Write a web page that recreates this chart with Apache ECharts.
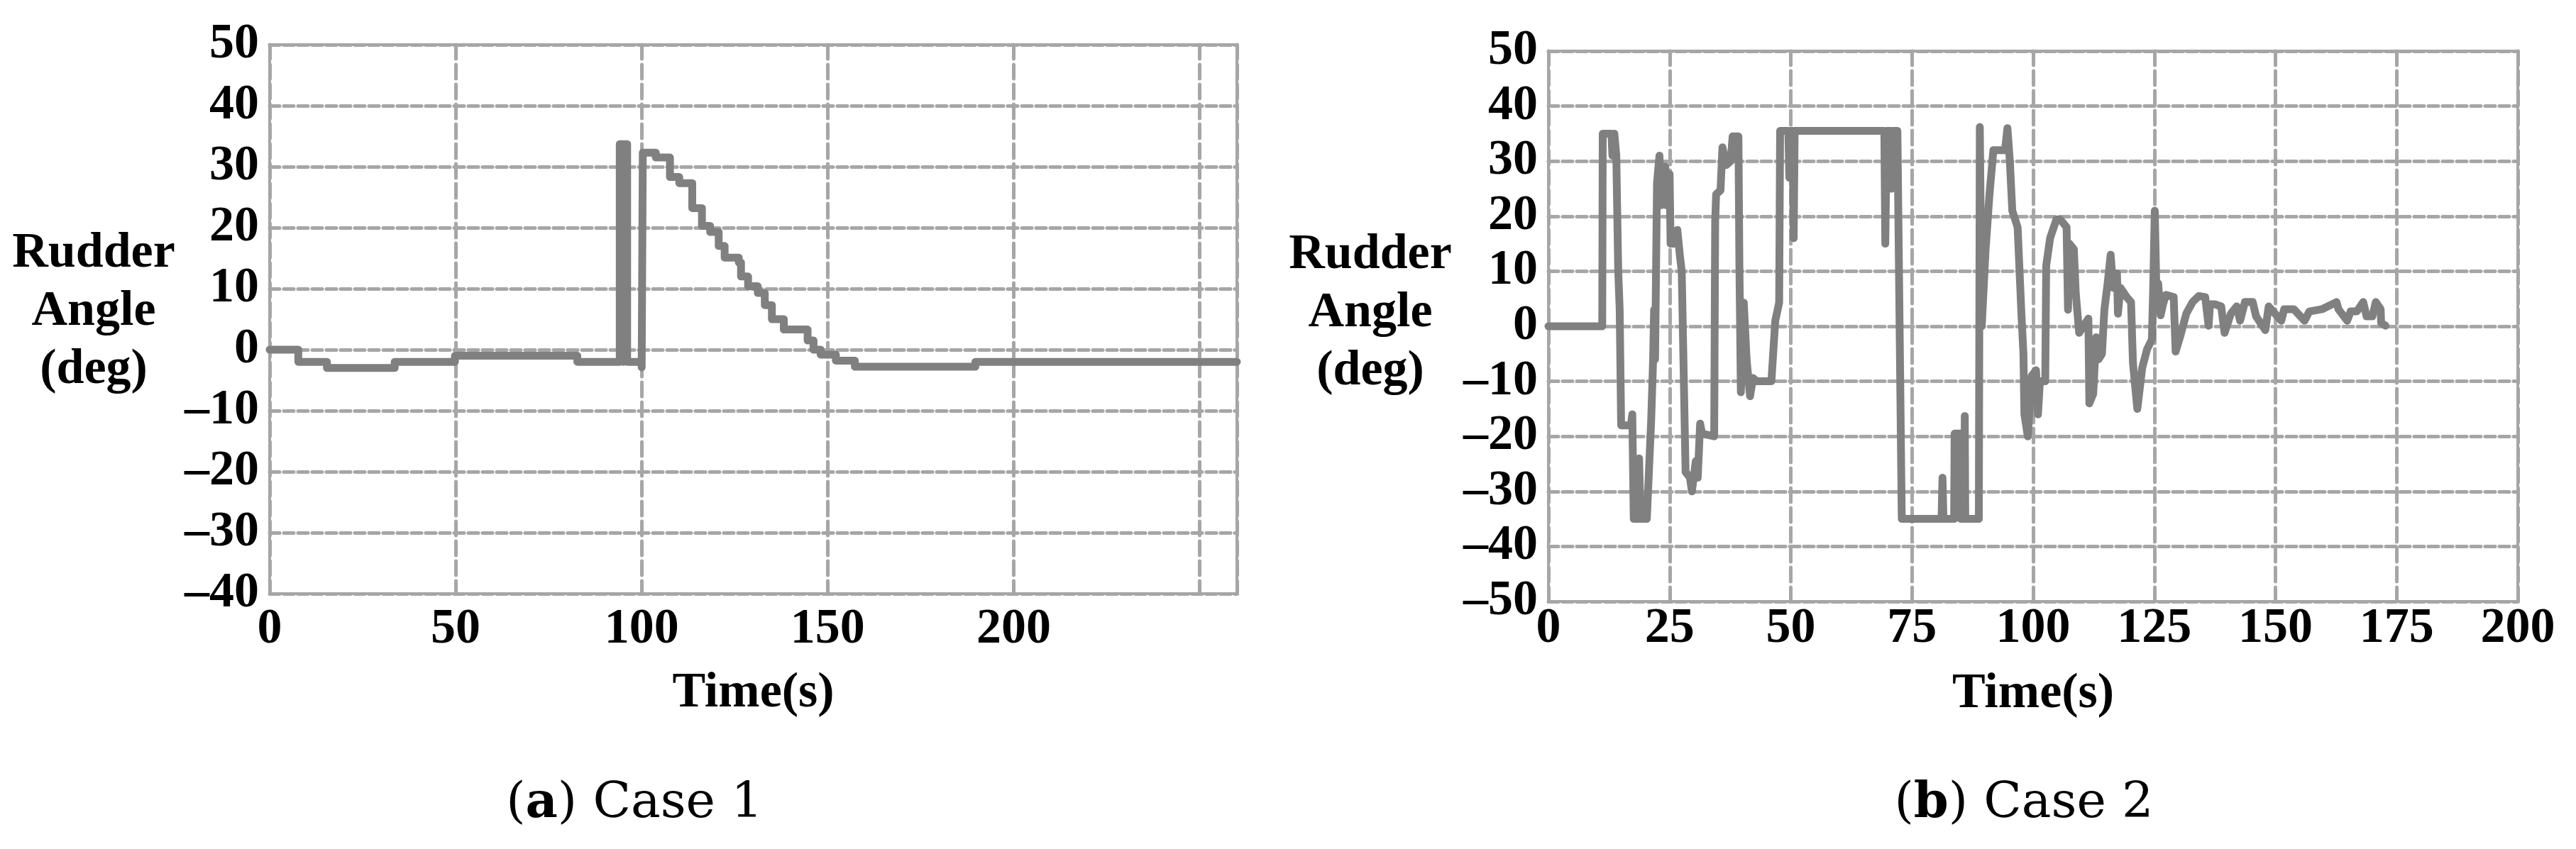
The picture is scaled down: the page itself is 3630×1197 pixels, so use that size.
<!DOCTYPE html>
<html>
<head>
<meta charset="utf-8">
<title>Rudder angle, Case 1 and Case 2</title>
<script src="https://cdn.jsdelivr.net/npm/echarts@6.0.0/dist/echarts.min.js"></script>
<style>
  html, body { margin: 0; padding: 0; background: #fff; }
  #main { width: 3630px; height: 1197px; }
</style>
</head>
<body>
<div id="main"></div>
<script>
// Case 1: [time (s), rudder angle (deg)], each value held until the next point
const caseOne = [
  [0, 0], [7.7, -2], [15.4, -3], [33.6, -2], [49.8, -1], [82.7, -2],
  [94.1, 33.7], [95.1, -2], [95.1, 33.7], [96.1, -2],
  [100, -2.9], [100.3, 32.3], [103.8, 31.5], [107.6, 28.3], [110.1, 27.3],
  [113.6, 23.2], [116.2, 20.3], [118.4, 19.3], [120.7, 17.0], [122.3, 15.1],
  [126.1, 14.3], [126.7, 12.0], [128.6, 10.4], [131.2, 9.3], [133.1, 7.3],
  [135, 5.0], [138.2, 3.3], [144.6, 1.5], [146.2, 0], [148.1, -0.8],
  [152.2, -1.8], [157.3, -2.8], [189.7, -2], [260, -2]
];

// Case 2: [time (s), rudder angle (deg)]
const caseTwo = [
  [0, 0], [11.1, 0], [11.2, 35], [13.0, 35], [13.2, 31], [13.6, 35], [14.0, 31],
  [14.4, 10], [14.7, 3], [15.0, -18], [17.0, -18], [17.3, -16], [17.6, -35],
  [18.5, -35], [18.7, -24], [19.0, -35], [20.3, -35], [21.2, -17], [21.6, -6],
  [21.8, 3], [22.0, -6], [22.4, 26], [22.9, 31], [23.3, 22], [24.1, 29],
  [24.3, 22], [25.0, 27.6], [25.2, 15], [26.2, 15], [26.6, 17.5], [27.1, 13],
  [27.5, 10], [28.3, -26.5], [29.2, -27.5], [29.6, -30], [30.4, -24.5],
  [30.8, -27.5], [31.3, -17.7], [31.7, -19.5], [34.2, -20], [34.4, 19],
  [34.6, 24], [35.5, 24.7], [35.9, 32.5], [36.7, 29.3], [37.6, 30], [38.0, 34.5],
  [39.2, 34.5], [39.4, 11], [39.7, -12], [40.3, 4.3], [40.9, -6.2], [41.6, -12.7],
  [42.2, -9.4], [43.0, -10], [46.0, -10], [46.8, 1], [47.6, 4.3], [47.8, 35.5],
  [49.5, 35.5], [49.7, 27], [49.9, 35.5], [50.4, 35.5], [50.6, 16], [50.8, 35.5],
  [69.3, 35.5], [69.5, 15], [69.8, 35.5], [70.6, 35.5], [70.8, 25], [71.0, 35.5],
  [72.0, 35.5], [72.9, -35], [81.1, -35], [81.3, -27.5], [81.5, -35], [83.7, -35],
  [83.8, -19.5], [85.0, -19.5], [85.1, -35], [85.8, -35], [85.9, -16.3], [86.0, -35],
  [88.8, -35], [89.0, 36.2], [89.4, 0], [90.2, 14], [91.0, 24], [91.8, 32],
  [94.2, 32], [94.7, 36], [95.2, 30], [95.7, 21], [96.8, 18], [97.6, 2],
  [98.0, -5], [98.2, -16], [98.9, -20], [99.7, -9], [100.6, -8], [101.0, -16],
  [101.4, -10], [102.5, -10], [102.7, 11], [103.5, 16], [104.8, 19.4], [105.6, 19.4],
  [106.9, 18], [107.2, 3], [107.5, 15], [108.4, 14], [108.8, 6], [109.5, -1.2],
  [111.4, 1.4], [111.6, -14], [112.4, -12.3], [113.0, -2], [113.5, -6], [114.2, -5],
  [114.7, 3], [115.4, 8], [116.0, 13], [116.5, 7], [117.3, 9.6], [117.5, 2.3],
  [118.0, 7], [119.3, 5.3], [120.2, 4.4], [120.6, -6.7], [121.5, -15], [122.5, -7.6],
  [123.5, -4.2], [124.5, -2.4], [124.8, 8], [125.1, 21], [125.4, 8], [125.8, 7.8],
  [126.3, 2], [126.8, 4], [127.4, 5.7], [129.0, 5.3], [129.4, -4.6], [130.3, -2],
  [131.6, 2.3], [132.9, 4.4], [134.2, 5.5], [135.5, 5.3], [136.2, 0.1], [136.5, 4],
  [137.5, 4], [138.8, 3.6], [139.5, -1.2], [140.8, 2.3], [142.0, 3.6], [142.7, 1],
  [143.7, 4.4], [145.3, 4.4], [146.0, 1.8], [147.9, -0.7], [148.6, 3.6], [149.9, 2.3],
  [151.2, 1], [151.8, 3.1], [153.8, 3.1], [156.0, 1], [157.0, 2.7], [159.6, 3.1],
  [162.6, 4.4], [163.0, 3.1], [164.8, 1], [165.5, 2.7], [166.8, 2.7], [168.1, 4.4],
  [168.8, 1.8], [170.0, 1.8], [170.7, 4.4], [171.7, 3.1], [171.8, 0.6], [172.7, 0.1]
];

// tick labels that are printed on the time axes
const caseOneTimeLabels = [0, 50, 100, 150, 200];
const caseTwoTimeLabels = [0, 25, 50, 75, 100, 125, 150, 175, 200];

const serif = '"Liberation Serif", "Times New Roman", serif';
const gridGray = '#a6a6a6';
const lineGray = '#808080';

let chart = echarts.init(document.getElementById('main'), null, {renderer: 'canvas'});

function timeAxis(idx, max, interval, labels, margin, nameGap) {
    return {
        type: 'value', gridIndex: idx, min: 0, max: max, interval: interval,
        name: 'Time(s)', nameLocation: 'middle', nameGap: nameGap,
        nameTextStyle: {fontFamily: serif, fontWeight: 'bold', fontSize: 70, color: '#000'},
        axisLine: {show: false}, axisTick: {show: false},
        axisLabel: {
            margin: margin, fontFamily: serif, fontWeight: 'bold', fontSize: 70, color: '#000',
            showMaxLabel: labels.includes(max),
            formatter: (v) => labels.includes(v) ? String(v) : ''
        },
        splitLine: {show: true, lineStyle: {color: gridGray, width: 5, type: [20, 8], cap: 'round'}}
    };
}

function angleAxis(idx, min) {
    return {
        type: 'value', gridIndex: idx, min: min, max: 50, interval: 10,
        axisLine: {show: false}, axisTick: {show: false},
        axisLabel: {
            margin: 15, fontFamily: serif, fontWeight: 'bold', fontSize: 70, color: '#000',
            formatter: (v) => String(v).replace('-', '\u2013')
        },
        splitLine: {show: true, lineStyle: {color: gridGray, width: 5, type: [14, 6], cap: 'round'}}
    };
}

function yName(x, y) {
    return {
        type: 'text', x: x, y: y,
        style: {
            text: 'Rudder\nAngle\n(deg)', align: 'center', verticalAlign: 'middle',
            fontFamily: serif, fontWeight: 'bold', fontSize: 70, lineHeight: 82, fill: '#000'
        }
    };
}

function caption(x, y, letter, label) {
    return {
        type: 'text', x: x, y: y,
        style: {
            text: '({b|' + letter + '}) ' + label, align: 'center', verticalAlign: 'middle',
            fontFamily: '"DejaVu Serif", serif', fontSize: 70, fill: '#000',
            rich: {b: {fontFamily: '"DejaVu Serif", serif', fontSize: 70, fontWeight: 'bold', fill: '#000'}}
        }
    };
}

let option = {
    backgroundColor: '#fff',
    animation: false,
    grid: [
        {left: 380, top: 63, width: 1363, height: 774, show: true, borderColor: gridGray, borderWidth: 4},
        {left: 2182, top: 72, width: 1366, height: 776, show: true, borderColor: gridGray, borderWidth: 4}
    ],
    xAxis: [
        timeAxis(0, 260, 50, caseOneTimeLabels, 16, 106),
        timeAxis(1, 200, 25, caseTwoTimeLabels, 4, 96)
    ],
    yAxis: [angleAxis(0, -40), angleAxis(1, -50)],
    series: [
        {
            type: 'line', xAxisIndex: 0, yAxisIndex: 0, step: 'end', data: caseOne,
            showSymbol: false, lineStyle: {color: lineGray, width: 11, cap: 'round', join: 'round'}
        },
        {
            type: 'line', xAxisIndex: 1, yAxisIndex: 1, data: caseTwo,
            showSymbol: false, lineStyle: {color: lineGray, width: 11, cap: 'round', join: 'round'}
        }
    ],
    graphic: [
        yName(132, 440),
        yName(1931, 442),
        caption(894, 1134, 'a', 'Case 1'),
        caption(2852, 1134, 'b', 'Case 2')
    ]
};

chart.setOption(option);
</script>
</body>
</html>
